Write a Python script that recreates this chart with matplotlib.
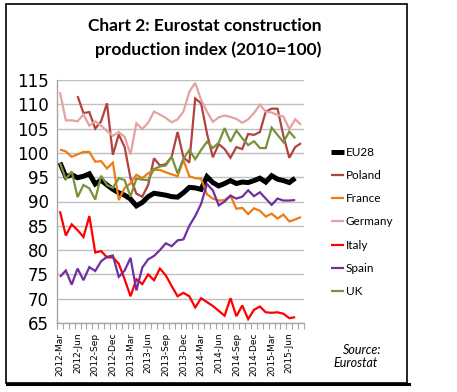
import numpy as np
import matplotlib
matplotlib.use("Agg")
import matplotlib.pyplot as plt
from matplotlib.patches import Rectangle
from matplotlib.lines import Line2D

nan = np.nan

# 42 monthly categories: 2012-Mar ... 2015-Aug
month_names = ["Jan", "Feb", "Mar", "Apr", "May", "Jun", "Jul", "Aug", "Sep", "Oct", "Nov", "Dec"]
months = [f"{y}-{m}" for y in range(2012, 2016) for m in month_names][2:44]

tick_labels = ["2012-Mar", "2012-Jun", "2012-Sep", "2012-Dec", "2013-Mar", "2013-Jun", "2013-Sep",
               "2013-Dec", "2014-Mar", "2014-Jun", "2014-Sep", "2014-Dec", "2015-Mar", "2015-Jun"]

eu28 = [98, 95.1, 95.5, 94.9, 95.2, 95.7, 93.6, 94.4, 93.4, 92.5, 91.8, 91.3, 90.5, 89.1, 89.8, 91,
        91.7, 91.5, 91.3, 91, 90.9, 91.8, 92.9, 92.8, 92.5, 95.1, 93.9, 93.2, 93.7, 94.3, 93.7, 94,
        93.9, 94.3, 94.8, 94, 95.3, 94.6, 94.3, 93.9, 94.8, nan]
poland = [nan, nan, nan, 111.7, 108.2, 108.4, 105, 106.5, 110.2, 99.6, 103.8, 101.2, 94.8, 91.6, 91,
          93.4, 98.9, 97.4, 97.7, 99.2, 104.3, 99.1, 98, 111.2, 110.2, 104, 99.1, 101.8, 100.8, 99,
          101.2, 100.8, 103.9, 103.7, 104.3, 108.5, 109.1, 109.1, 103.5, 99, 101.2, 102]
france = [100.7, 100.3, 99.2, 99.7, 100.2, 100.2, 98.2, 98.3, 96.8, 98, 90.3, 92.8, 93.7, 95.5, 94.8,
          95.8, 96.5, 96.5, 96, 95.6, 95.2, 98.5, 95.2, 94.8, 94.7, 91.5, 90.6, 90.2, 90.3, 91.2, 88.5,
          88.7, 87.4, 88.6, 88.1, 86.9, 87.5, 86.5, 87.3, 85.9, 86.3, 86.8]
germany = [112.5, 106.7, 106.7, 106.5, 107.9, 105.6, 106.5, 105.6, 104.5, 103.5, 104.3, 103.3, 99.7,
           106.1, 104.9, 106.2, 108.5, 107.9, 107.2, 106.3, 106.9, 108.5, 112.6, 114.4, 110.9, 108.5,
           106.4, 107.3, 107.7, 107.4, 107, 106.2, 106.9, 108.2, 109.9, 108.5, 108.3, 107.8, 107.5,
           104.9, 106.9, 105.8]
italy = [88, 83, 85.3, 84.1, 82.7, 87, 79.5, 79.8, 78.5, 78.5, 77.2, 74, 70.5, 74, 73, 75, 73.8, 76.2,
         74.8, 72.6, 70.5, 71.2, 70.5, 68.2, 70.1, 69.3, 68.5, 67.5, 66.5, 70.1, 66.4, 68.6, 65.8, 67.7,
         68.4, 67.2, 67.1, 67.2, 66.9, 66, 66.2, nan]
spain = [74.5, 75.8, 72.9, 76.2, 73.8, 76.5, 75.7, 77.7, 78.6, 78.9, 74.5, 75.8, 78.4, 71.7, 76.4, 78.1,
         78.8, 80, 81.4, 80.8, 82, 82.2, 85, 87, 89.5, 93.6, 92.3, 89.2, 90, 91.2, 90.6, 91, 92.3, 91.1,
         91.9, 90.6, 89.3, 90.6, 90.2, 90.2, 90.3, nan]
uk = [98, 94.6, 96.2, 90.9, 93.4, 92.7, 90.4, 95.3, 93.4, 92.8, 94.8, 94.4, 91, 94.7, 94.5, 94.4, 96.7,
      97.2, 97.4, 99.2, 95.8, 98.8, 100.6, 98.7, 100.6, 102.3, 101, 102.1, 105.1, 102.3, 104.6, 103,
      101.6, 102.4, 101, 101, 105.2, 103.7, 102.2, 104.4, 103, nan]

series_names = ["EU28", "Poland", "France", "Germany", "Italy", "Spain", "UK"]
series_values = [eu28, poland, france, germany, italy, spain, uk]
colors = ["#000000", "#B2423F", "#F07B14", "#E3A3A1", "#FF0000", "#7030A0", "#77933C"]
widths = [3.6, 1.6, 1.6, 1.6, 1.6, 1.6, 1.6]

W, H = 457, 392
fig = plt.figure(figsize=(W / 100, H / 100), dpi=100)
fig.patch.set_facecolor("white")

ax = fig.add_axes([57 / W, (H - 323) / H, 247 / W, 243 / H])
x = np.arange(len(months))
for name, vals, c, lw in zip(series_names, series_values, colors, widths):
    ax.plot(x, vals, color=c, lw=lw, label=name, solid_joinstyle="miter", solid_capstyle="butt")

ax.set_xlim(-0.5, len(months) - 0.5)
ax.set_ylim(65, 115)
ax.set_yticks(np.arange(65, 116, 5))
ax.tick_params(axis="y", length=0, pad=6, labelsize=12)
for t in ax.get_yticklabels():
    t.set_fontfamily("DejaVu Sans")

ax.set_xticks(np.arange(0, len(months), 3))
ax.set_xticklabels(tick_labels, rotation=90, fontsize=6.5, family="DejaVu Sans")
ax.tick_params(axis="x", which="major", length=0, pad=7)
ax.set_xticks(np.arange(-0.5, len(months), 1), minor=True)
ax.tick_params(axis="x", which="minor", length=4, color="#A6A6A6", width=0.8)

ax.yaxis.grid(True, color="#BFBFBF", lw=1)
ax.set_axisbelow(True)
for s in ["top", "right"]:
    ax.spines[s].set_visible(False)
for s in ["left", "bottom"]:
    ax.spines[s].set_color("#A6A6A6")
    ax.spines[s].set_linewidth(1)

leg = ax.legend(loc="upper left", bbox_to_anchor=(331 / W, 1 - 147 / H), bbox_transform=fig.transFigure,
                frameon=False, handlelength=1.1, handletextpad=0.15, labelspacing=1.03,
                borderpad=0, borderaxespad=0, prop={"family": "Lato", "size": 8.5})

fig.text(205 / W, 1 - 31 / H, "Chart 2: Eurostat construction", ha="center", va="baseline",
         fontsize=12.5, fontweight="bold", family="Lato")
fig.text(208 / W, 1 - 55 / H, "production index (2010=100)", ha="center", va="baseline",
         fontsize=12.5, fontweight="bold", family="Lato")

fig.text(343 / W, 1 - 354 / H, "Source:", ha="left", va="baseline", fontsize=9, style="italic",
         family="Lato")
fig.text(333 / W, 1 - 367 / H, "Eurostat", ha="left", va="baseline", fontsize=9, style="italic",
         family="Lato")

fig.patches.append(Rectangle((6 / W, 1 - 383 / H), 401 / W, 379 / H, transform=fig.transFigure,
                             fill=False, lw=1.2, ec="black"))
fig.lines.append(Line2D([7 / W, 409 / W], [1 - 384 / H, 1 - 384 / H], transform=fig.transFigure,
                        color="black", lw=2.2))

fig.savefig("out.png", dpi=100)
